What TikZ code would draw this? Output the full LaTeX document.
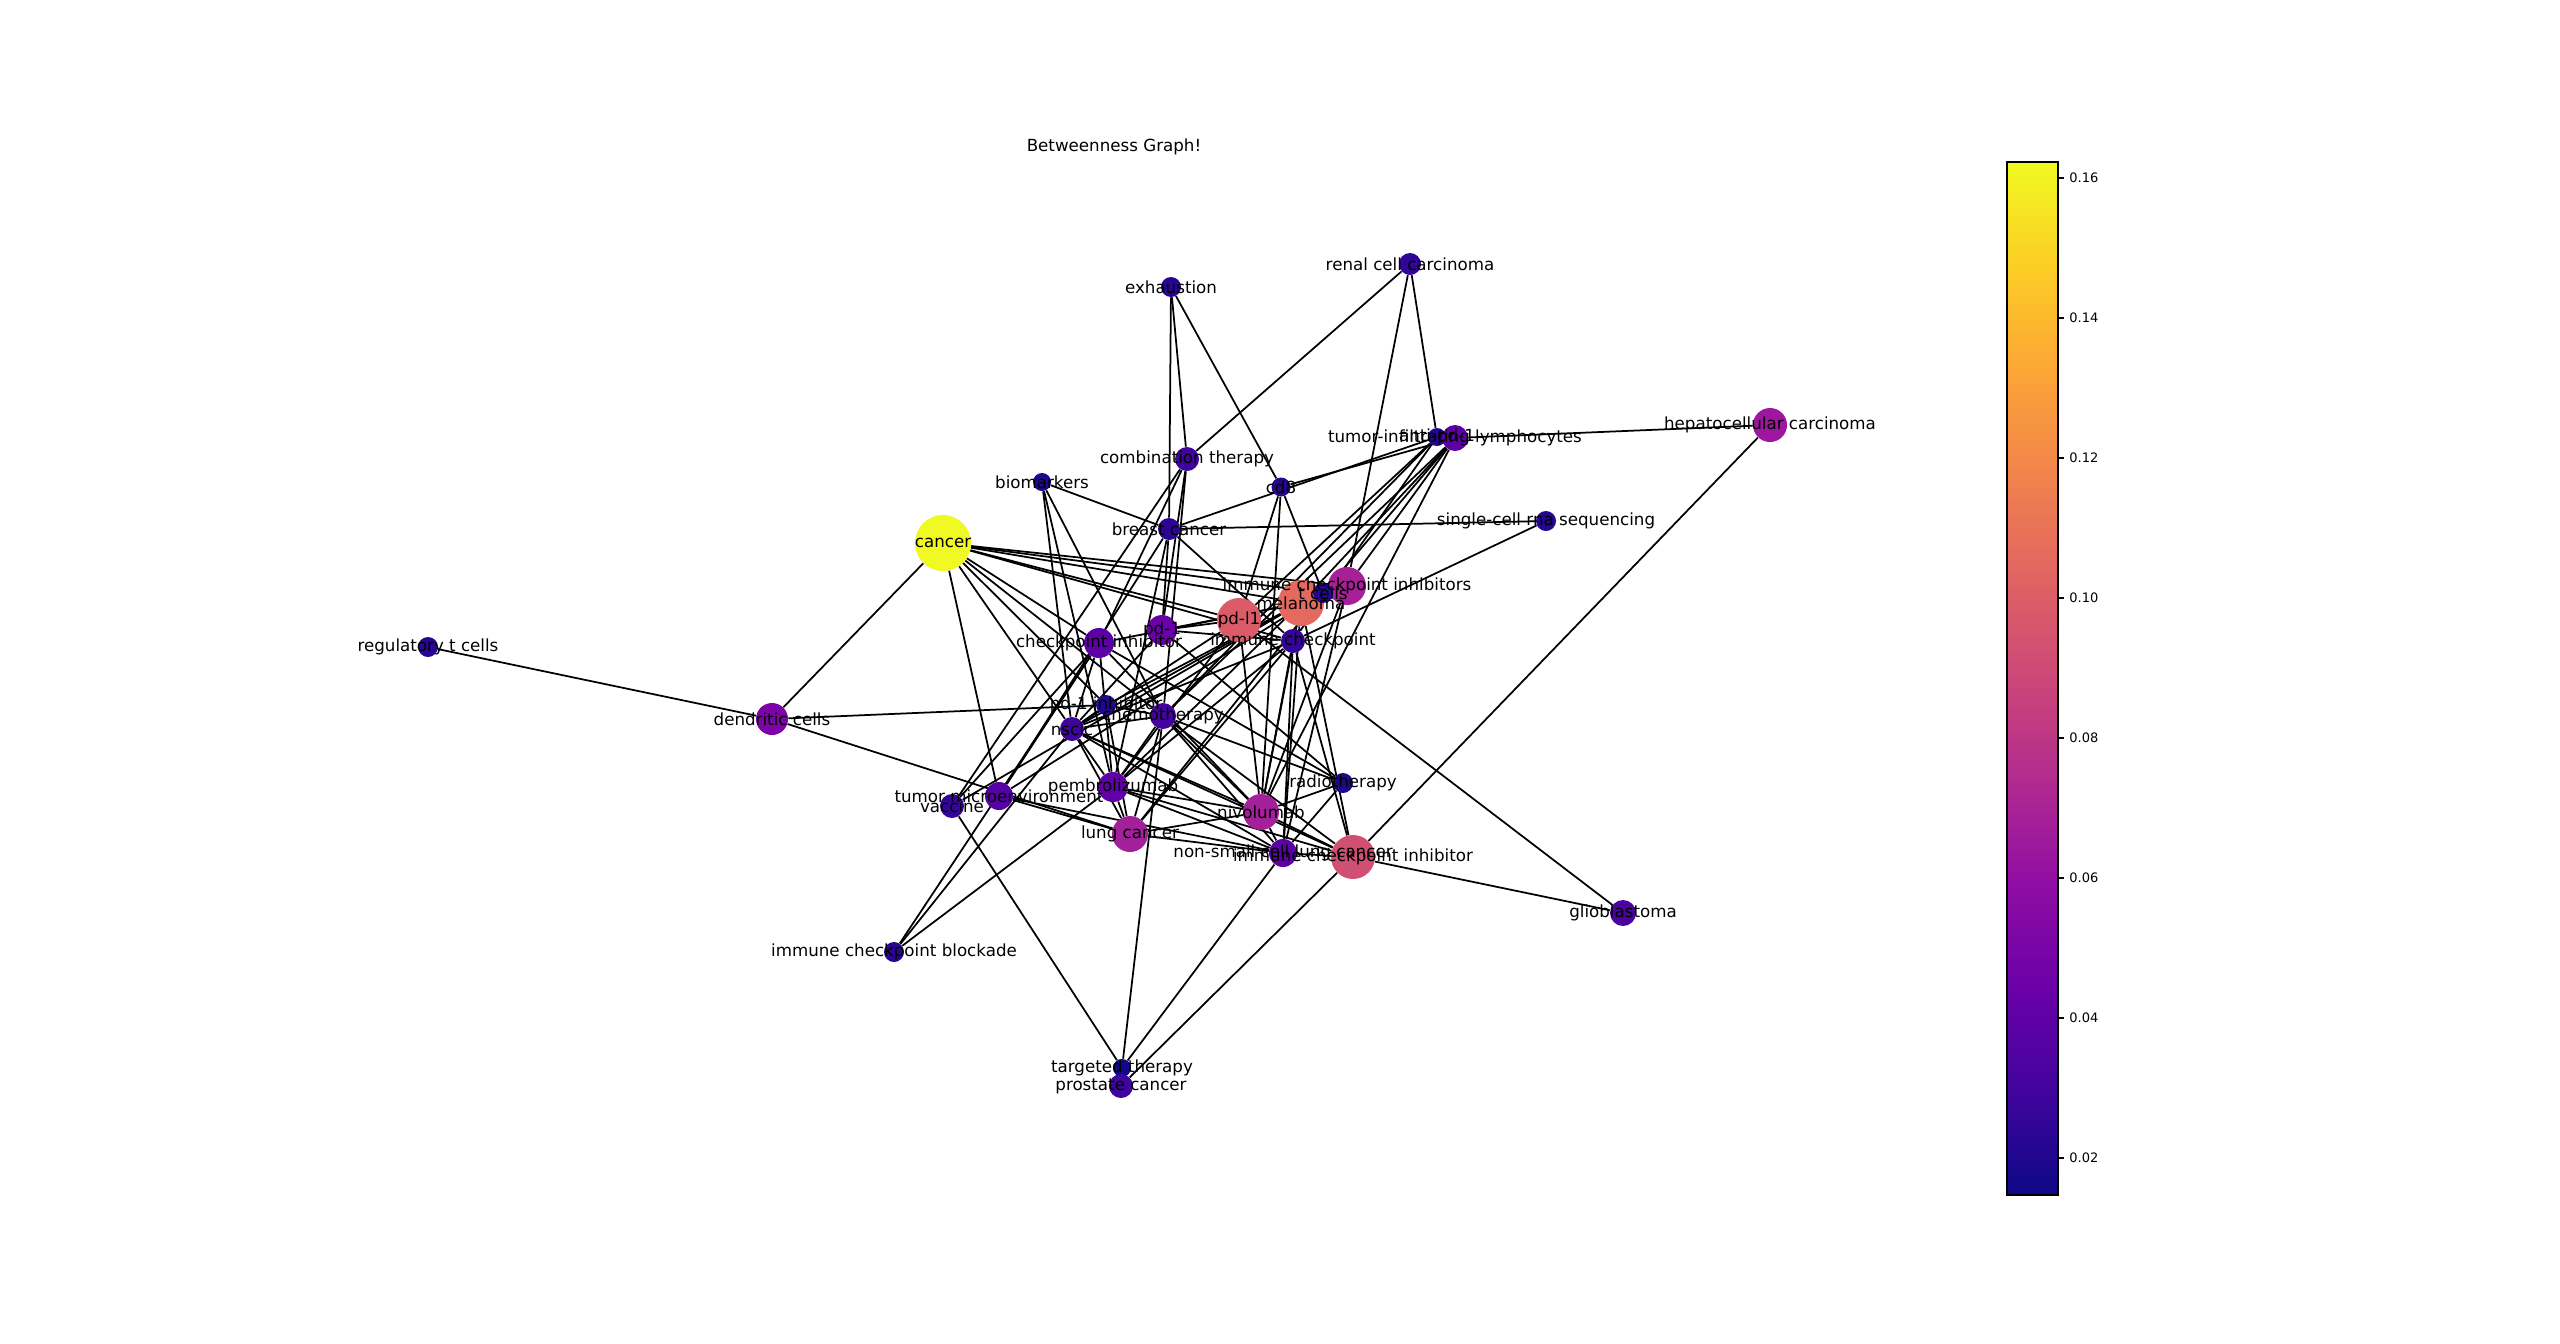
\documentclass[tikz,border=0pt]{standalone}
\usepackage{fontspec}
\setmainfont{DejaVu Sans}
\usepackage{xcolor}
\usepackage{tikz}
\usetikzlibrary{backgrounds, positioning}

% =================================================================
% colours of the nodes (betweenness, plasma scale)
% =================================================================
\definecolor{cCancer}{HTML}{F0F921}
\definecolor{cMelanoma}{HTML}{E4695E}
\definecolor{cPdlOne}{HTML}{DB5C68}
\definecolor{cIci}{HTML}{D05073}
\definecolor{cIcis}{HTML}{A62098}
\definecolor{cNivo}{HTML}{A3209A}
\definecolor{cLungCa}{HTML}{A2209A}
\definecolor{cHcc}{HTML}{9C179E}
\definecolor{cDendritic}{HTML}{7D03A8}
\definecolor{cPdOne}{HTML}{6A00A8}
\definecolor{cCpInhib}{HTML}{5B01A5}
\definecolor{cPembro}{HTML}{6100A7}
\definecolor{cTme}{HTML}{5502A4}
\definecolor{cNsclcFull}{HTML}{5C01A6}
\definecolor{cTil}{HTML}{5C01A6}
\definecolor{cGbm}{HTML}{4C02A1}
\definecolor{cChemo}{HTML}{43039E}
\definecolor{cNsclc}{HTML}{3E049C}
\definecolor{cCombTherapy}{HTML}{3F049C}
\definecolor{cProstate}{HTML}{3E049C}
\definecolor{cImmCp}{HTML}{350498}
\definecolor{cVaccine}{HTML}{350498}
\definecolor{cBreastCa}{HTML}{2C0594}
\definecolor{cRenal}{HTML}{300597}
\definecolor{cExhaustion}{HTML}{270592}
\definecolor{cCdEight}{HTML}{240691}
\definecolor{cTcells}{HTML}{270592}
\definecolor{cTreg}{HTML}{2A0593}
\definecolor{cScRna}{HTML}{250691}
\definecolor{cIcb}{HTML}{2A0593}
\definecolor{cRadio}{HTML}{1E068F}
\definecolor{cPdOneInhib}{HTML}{230691}
\definecolor{cAntiPd}{HTML}{260591}
\definecolor{cBiomarkers}{HTML}{200690}
\definecolor{cTargeted}{HTML}{12078A}

% colour bar stops
\definecolor{pl0}{HTML}{0D0887}
\definecolor{pl1}{HTML}{41049D}
\definecolor{pl2}{HTML}{6A00A8}
\definecolor{pl3}{HTML}{8F0DA4}
\definecolor{pl4}{HTML}{B12A90}
\definecolor{pl5}{HTML}{CC4778}
\definecolor{pl6}{HTML}{E16462}
\definecolor{pl7}{HTML}{F2844B}
\definecolor{pl8}{HTML}{FCA636}
\definecolor{pl9}{HTML}{FCCE25}
\definecolor{pl10}{HTML}{F0F921}
\pgfdeclareverticalshading{plasmabar}{100bp}{color(0bp)=(pl0); color(25bp)=(pl0);
  color(30bp)=(pl1); color(35bp)=(pl2); color(40bp)=(pl3); color(45bp)=(pl4);
  color(50bp)=(pl5); color(55bp)=(pl6); color(60bp)=(pl7); color(65bp)=(pl8);
  color(70bp)=(pl9); color(75bp)=(pl10); color(100bp)=(pl10)}

\begin{document}
\begin{tikzpicture}[x=0.02cm, y=-0.02cm,
    vertex/.style={circle, inner sep=0pt, draw=none},
    lbl/.style={font=\fontsize{9.5}{11}\selectfont, inner sep=0pt, text=black},
    ticklbl/.style={font=\fontsize{7.4}{9}\selectfont, inner sep=0pt, anchor=west},
    link/.style={line width=0.035cm, black}]

    \useasboundingbox (0,0) rectangle (2560,1343);

    % =================================================================
    % 1. NODES (circles, size and colour from betweenness)
    % =================================================================
    \node[vertex, minimum size=1.12cm, fill=cCancer] (cancer) at (943,543) {};
    \node[vertex, minimum size=0.36cm, fill=cBiomarkers] (biomarkers) at (1042,482) {};
    \node[vertex, minimum size=0.48cm, fill=cCombTherapy] (combtherapy) at (1187,459) {};
    \node[vertex, minimum size=0.38cm, fill=cCdEight] (cdeight) at (1281,487) {};
    \node[vertex, minimum size=0.44cm, fill=cBreastCa] (breastca) at (1169,529) {};
    \node[vertex, minimum size=0.76cm, fill=cIcis] (icis) at (1347,586) {};
    \node[vertex, minimum size=0.92cm, fill=cMelanoma] (melanoma) at (1301,603) {};
    \node[vertex, minimum size=0.40cm, fill=cTcells] (tcells) at (1323,593) {};
    \node[vertex, minimum size=0.88cm, fill=cPdlOne] (pdlone) at (1239,620) {};
    \node[vertex, minimum size=0.60cm, fill=cPdOne] (pdone) at (1162,630) {};
    \node[vertex, minimum size=0.60cm, fill=cCpInhib] (cpinhib) at (1099,643) {};
    \node[vertex, minimum size=0.48cm, fill=cImmCp] (immcp) at (1293,641) {};
    \node[vertex, minimum size=0.40cm, fill=cPdOneInhib] (pdoneinhib) at (1106,705) {};
    \node[vertex, minimum size=0.52cm, fill=cChemo] (chemo) at (1163,716) {};
    \node[vertex, minimum size=0.48cm, fill=cNsclc] (nsclc) at (1072,729) {};
    \node[vertex, minimum size=0.60cm, fill=cPembro] (pembro) at (1113,787) {};
    \node[vertex, minimum size=0.40cm, fill=cRadio] (radio) at (1343,783) {};
    \node[vertex, minimum size=0.72cm, fill=cNivo] (nivo) at (1261,812) {};
    \node[vertex, minimum size=0.72cm, fill=cLungCa] (lungca) at (1130,834) {};
    \node[vertex, minimum size=0.56cm, fill=cNsclcFull] (nsclcfull) at (1283,853) {};
    \node[vertex, minimum size=0.88cm, fill=cIci] (ici) at (1353,857) {};
    \node[vertex, minimum size=0.56cm, fill=cTme] (tme) at (999,796) {};
    \node[vertex, minimum size=0.48cm, fill=cVaccine] (vaccine) at (952,806) {};
    \node[vertex, minimum size=0.64cm, fill=cDendritic] (dendritic) at (772,719) {};
    \node[vertex, minimum size=0.40cm, fill=cIcb] (icb) at (894,952) {};
    \node[vertex, minimum size=0.40cm, fill=cTreg] (treg) at (428,647) {};
    \node[vertex, minimum size=0.40cm, fill=cExhaustion] (exhaustion) at (1171,287) {};
    \node[vertex, minimum size=0.44cm, fill=cRenal] (renal) at (1410,264) {};
    \node[vertex, minimum size=0.36cm, fill=cAntiPd] (antipd) at (1437,437) {};
    \node[vertex, minimum size=0.52cm, fill=cTil] (til) at (1455,438) {};
    \node[vertex, minimum size=0.40cm, fill=cScRna] (scrna) at (1546,521) {};
    \node[vertex, minimum size=0.68cm, fill=cHcc] (hcc) at (1770,425) {};
    \node[vertex, minimum size=0.52cm, fill=cGbm] (gbm) at (1623,913) {};
    \node[vertex, minimum size=0.36cm, fill=cTargeted] (targeted) at (1122,1068) {};
    \node[vertex, minimum size=0.48cm, fill=cProstate] (prostate) at (1121,1086) {};

    % =================================================================
    % 2. EDGES (behind the nodes)
    % =================================================================
    \begin{scope}[on background layer]
    \fill[white] (0,0) rectangle (2560,1343);
    % cancer
    \draw[link] (cancer) -- (dendritic);
    \draw[link] (cancer) -- (tme);
    \draw[link] (cancer) -- (icis);
    \draw[link] (cancer) -- (tcells);
    \draw[link] (cancer) -- (melanoma);
    \draw[link] (cancer) -- (pdlone);
    \draw[link] (cancer) -- (immcp);
    \draw[link] (cancer) -- (cpinhib);
    \draw[link] (cancer) -- (chemo);
    \draw[link] (cancer) -- (nsclc);
    \draw[link] (cancer) -- (pdoneinhib);
    % upper part
    \draw[link] (biomarkers) -- (breastca);
    \draw[link] (biomarkers) -- (nsclc);
    \draw[link] (biomarkers) -- (pembro);
    \draw[link] (biomarkers) -- (chemo);
    \draw[link] (exhaustion) -- (breastca);
    \draw[link] (exhaustion) -- (combtherapy);
    \draw[link] (exhaustion) -- (cdeight);
    \draw[link] (renal) -- (combtherapy);
    \draw[link] (renal) -- (antipd);
    \draw[link] (renal) -- (icis);
    \draw[link] (cdeight) -- (pdlone);
    \draw[link] (cdeight) -- (tcells);
    \draw[link] (cdeight) -- (til);
    \draw[link] (cdeight) -- (nivo);
    \draw[link] (combtherapy) -- (pdone);
    \draw[link] (combtherapy) -- (chemo);
    \draw[link] (combtherapy) -- (vaccine);
    \draw[link] (combtherapy) -- (cpinhib);
    \draw[link] (breastca) -- (scrna);
    \draw[link] (breastca) -- (pdone);
    \draw[link] (breastca) -- (immcp);
    \draw[link] (breastca) -- (antipd);
    \draw[link] (breastca) -- (tme);
    \draw[link] (breastca) -- (pembro);
    \draw[link] (til) -- (hcc);
    \draw[link] (til) -- (tcells);
    \draw[link] (til) -- (melanoma);
    \draw[link] (til) -- (icis);
    \draw[link] (til) -- (chemo);
    \draw[link] (til) -- (nivo);
    \draw[link] (antipd) -- (chemo);
    \draw[link] (antipd) -- (pdlone);
    \draw[link] (antipd) -- (immcp);
    \draw[link] (icis) -- (nivo);
    \draw[link] (icis) -- (nsclcfull);
    % middle cluster
    \draw[link] (immcp) -- (scrna);
    \draw[link] (immcp) -- (nsclc);
    \draw[link] (immcp) -- (nivo);
    \draw[link] (immcp) -- (pembro);
    \draw[link] (immcp) -- (lungca);
    \draw[link] (immcp) -- (nsclcfull);
    \draw[link] (immcp) -- (ici);
    \draw[link] (immcp) -- (pdone);
    \draw[link] (pdone) -- (pdlone);
    \draw[link] (pdone) -- (melanoma);
    \draw[link] (pdone) -- (nsclc);
    \draw[link] (pdone) -- (radio);
    \draw[link] (pdlone) -- (nivo);
    \draw[link] (pdlone) -- (gbm);
    \draw[link] (pdlone) -- (pembro);
    \draw[link] (pdlone) -- (nsclc);
    \draw[link] (melanoma) -- (pembro);
    \draw[link] (melanoma) -- (nsclc);
    \draw[link] (melanoma) -- (nivo);
    \draw[link] (melanoma) -- (ici);
    \draw[link] (melanoma) -- (nsclcfull);
    \draw[link] (melanoma) -- (vaccine);
    \draw[link] (melanoma) -- (cpinhib);
    \draw[link] (melanoma) -- (pdoneinhib);
    \draw[link] (tcells) -- (lungca);
    \draw[link] (tcells) -- (tme);
    \draw[link] (cpinhib) -- (icb);
    \draw[link] (cpinhib) -- (radio);
    \draw[link] (cpinhib) -- (nivo);
    \draw[link] (cpinhib) -- (pembro);
    \draw[link] (cpinhib) -- (nsclc);
    \draw[link] (cpinhib) -- (vaccine);
    \draw[link] (cpinhib) -- (tme);
    \draw[link] (pdoneinhib) -- (dendritic);
    \draw[link] (pdoneinhib) -- (nsclc);
    \draw[link] (pdoneinhib) -- (chemo);
    \draw[link] (pdoneinhib) -- (lungca);
    % lower part
    \draw[link] (chemo) -- (nsclc);
    \draw[link] (chemo) -- (pembro);
    \draw[link] (chemo) -- (radio);
    \draw[link] (chemo) -- (nivo);
    \draw[link] (chemo) -- (ici);
    \draw[link] (chemo) -- (targeted);
    \draw[link] (chemo) -- (lungca);
    \draw[link] (chemo) -- (nsclcfull);
    \draw[link] (nsclc) -- (icb);
    \draw[link] (nsclc) -- (pembro);
    \draw[link] (nsclc) -- (lungca);
    \draw[link] (nsclc) -- (nivo);
    \draw[link] (nsclc) -- (nsclcfull);
    \draw[link] (nsclc) -- (ici);
    \draw[link] (pembro) -- (icb);
    \draw[link] (pembro) -- (lungca);
    \draw[link] (pembro) -- (nivo);
    \draw[link] (pembro) -- (nsclcfull);
    \draw[link] (pembro) -- (ici);
    \draw[link] (lungca) -- (dendritic);
    \draw[link] (lungca) -- (tme);
    \draw[link] (lungca) -- (nivo);
    \draw[link] (lungca) -- (nsclcfull);
    \draw[link] (nivo) -- (radio);
    \draw[link] (nivo) -- (ici);
    \draw[link] (nivo) -- (nsclcfull);
    \draw[link] (nsclcfull) -- (radio);
    \draw[link] (nsclcfull) -- (targeted);
    \draw[link] (nsclcfull) -- (ici);
    \draw[link] (nsclcfull) -- (tme);
    \draw[link] (ici) -- (hcc);
    \draw[link] (ici) -- (gbm);
    \draw[link] (ici) -- (prostate);
    \draw[link] (vaccine) -- (targeted);
    \draw[link] (treg) -- (dendritic);
    \end{scope}

    % =================================================================
    % 3. LABELS (centred on the nodes)
    % =================================================================
    \node[lbl] (lcancer) at (cancer) {cancer};
    \node[lbl] (lbiomarkers) at (biomarkers) {biomarkers};
    \node[lbl] (lcombtherapy) at (combtherapy) {combination therapy};
    \node[lbl] (lcdeight) at (cdeight) {cd8};
    \node[lbl] (lbreastca) at (breastca) {breast cancer};
    \node[lbl] (licis) at (icis) {immune checkpoint inhibitors};
    \node[lbl] (lmelanoma) at (melanoma) {melanoma};
    \node[lbl] (ltcells) at (tcells) {t cells};
    \node[lbl] (lpdlone) at (pdlone) {pd-l1};
    \node[lbl] (lpdone) at (pdone) {pd-1};
    \node[lbl] (lcpinhib) at (cpinhib) {checkpoint inhibitor};
    \node[lbl] (limmcp) at (immcp) {immune checkpoint};
    \node[lbl] (lpdoneinhib) at (pdoneinhib) {pd-1 inhibitor};
    \node[lbl] (lchemo) at (chemo) {chemotherapy};
    \node[lbl] (lnsclc) at (nsclc) {nsclc};
    \node[lbl] (lpembro) at (pembro) {pembrolizumab};
    \node[lbl] (lradio) at (radio) {radiotherapy};
    \node[lbl] (lnivo) at (nivo) {nivolumab};
    \node[lbl] (llungca) at (lungca) {lung cancer};
    \node[lbl] (lnsclcfull) at (nsclcfull) {non-small cell lung cancer};
    \node[lbl] (lici) at (ici) {immune checkpoint inhibitor};
    \node[lbl] (ltme) at (tme) {tumor microenvironment};
    \node[lbl] (lvaccine) at (vaccine) {vaccine};
    \node[lbl] (ldendritic) at (dendritic) {dendritic cells};
    \node[lbl] (licb) at (icb) {immune checkpoint blockade};
    \node[lbl] (ltreg) at (treg) {regulatory t cells};
    \node[lbl] (lexhaustion) at (exhaustion) {exhaustion};
    \node[lbl] (lrenal) at (renal) {renal cell carcinoma};
    \node[lbl] (lantipd) at (antipd) {anti-pd-1};
    \node[lbl] (ltil) at (til) {tumor-infiltrating lymphocytes};
    \node[lbl] (lscrna) at (scrna) {single-cell rna sequencing};
    \node[lbl] (lhcc) at (hcc) {hepatocellular carcinoma};
    \node[lbl] (lgbm) at (gbm) {glioblastoma};
    \node[lbl] (ltargeted) at (targeted) {targeted therapy};
    \node[lbl] (lprostate) at (prostate) {prostate cancer};

    % title
    \node[lbl] (title) at (1114,147) {Betweenness Graph!};

    % =================================================================
    % 4. COLOUR BAR
    % =================================================================
    \shade[shading=plasmabar] (2007,162) rectangle (2058,1195);
    \draw[line width=0.03cm] (2007,162) rectangle (2058,1195);
    \foreach \val/\ty in {0.02/1158, 0.04/1018, 0.06/878, 0.08/738,
                          0.10/598, 0.12/458, 0.14/318, 0.16/178} {
        \draw[line width=0.03cm] (2058,\ty) -- (2064,\ty);
        \node[ticklbl] (tick\ty) at (2069,\ty) {\val};
    }

\end{tikzpicture}
\end{document}
